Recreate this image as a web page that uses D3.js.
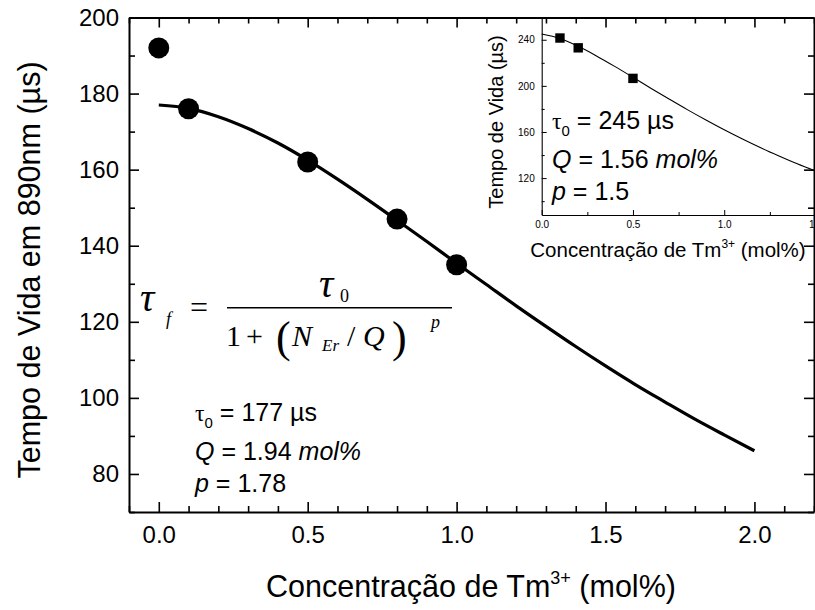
<!DOCTYPE html>
<html>
<head>
<meta charset="utf-8">
<script src="https://cdn.jsdelivr.net/npm/d3@7"></script>
<style>
body { margin: 0; background: #fff; }
svg text { fill: #000; }
</style>
</head>
<body>
<div id="chart"></div>
<script>
// main data (Tm3+ concentration vs lifetime at 890nm)
const conc = [0.0, 0.1, 0.5, 0.8, 1.0]
const lifetime = [192, 176, 162, 147, 135]
// fitted curve
const fitConc = [0.0, 0.1, 0.2, 0.3, 0.4, 0.5, 0.6, 0.7, 0.8, 0.9, 1.0, 1.1, 1.2, 1.3, 1.4, 1.5, 1.6, 1.7, 1.8, 1.9, 2.0]
const fitLifetime = [177, 176.1, 173.9, 170.8, 167.0, 162.5, 157.5, 152.2, 146.7, 141.1, 135.4, 129.8, 124.2, 118.8, 113.5, 108.4, 103.5, 98.9, 94.4, 90.2, 86.1]
const xTicks = [0.0, 0.5, 1.0, 1.5, 2.0]
const yTicks = [80, 100, 120, 140, 160, 180, 200]

// inset data
const insetConc = [0.1, 0.2, 0.5]
const insetLifetime = [241.5, 233, 206.5]
const insetFitConc = [0.0, 0.1, 0.2, 0.3, 0.4, 0.5, 0.6, 0.7, 0.8, 0.9, 1.0, 1.1, 1.2, 1.3, 1.4, 1.5]
const insetFitLifetime = [245, 241.1, 234.3, 226.0, 216.9, 207.4, 197.8, 188.4, 179.2, 170.4, 161.9, 153.9, 146.3, 139.2, 132.4, 126.1]
const insetXTicks = [0.0, 0.5, 1.0, 1.5]
const insetYTicks = [120, 160, 200, 240]

const W = 815, H = 610
const SANS = "'Liberation Sans', Arial, sans-serif"
const SERIF = "'Liberation Serif', 'Times New Roman', serif"

const svg = d3.select("#chart")
    .append("svg")
    .attr("width", W)
    .attr("height", H)
    .style("font-family", SANS)

// scales
const x = d3.scaleLinear().domain([-0.1, 2.2]).range([129, 814])
const y = d3.scaleLinear().domain([70, 200]).range([512, 17.5])

const ix = d3.scaleLinear().domain([0, 1.5]).range([541.7, 815.5])
const iy = d3.scaleLinear().domain([88, 260]).range([215, 16.7])

// ---------- inset ----------
const inset = svg.append("g")

inset.append("path")
    .datum(insetFitConc.map((c, i) => [c, insetFitLifetime[i]]))
    .attr("fill", "none")
    .attr("stroke", "#000")
    .attr("stroke-width", 1.1)
    .attr("d", d3.line().x(d => ix(d[0])).y(d => iy(d[1])).curve(d3.curveMonotoneX))

inset.selectAll("rect.pt")
    .data(insetConc)
    .enter().append("rect")
    .attr("class", "pt")
    .attr("x", d => ix(d) - 4.7)
    .attr("y", (d, i) => iy(insetLifetime[i]) - 4.7)
    .attr("width", 9.4)
    .attr("height", 9.4)
    .attr("fill", "#000")

// inset axes, ticks inside
inset.append("g")
    .attr("transform", `translate(0,${iy.range()[0]})`)
    .call(d3.axisBottom(ix).tickValues(insetXTicks).tickSizeInner(-5).tickSizeOuter(0).tickPadding(6).tickFormat(d3.format(".1f")))
    .call(g => g.select(".domain").attr("stroke-width", 1.1))
    .call(g => g.selectAll("text").attr("font-size", 10).attr("dy", "0.71em").style("font-family", SANS))
inset.append("g")
    .attr("transform", `translate(0,${iy.range()[0]})`)
    .call(d3.axisBottom(ix).tickValues([0.25, 0.75, 1.25]).tickSizeInner(-3).tickSizeOuter(0).tickFormat(""))
    .call(g => g.select(".domain").remove())

inset.append("g")
    .attr("transform", `translate(${ix.range()[0]},0)`)
    .call(d3.axisLeft(iy).tickValues(insetYTicks).tickSizeInner(-5).tickSizeOuter(0).tickPadding(7))
    .call(g => g.select(".domain").attr("stroke-width", 1.1))
    .call(g => g.selectAll("text").attr("font-size", 10).style("font-family", SANS))
inset.append("g")
    .attr("transform", `translate(${ix.range()[0]},0)`)
    .call(d3.axisLeft(iy).tickValues([100, 140, 180, 220]).tickSizeInner(-3).tickSizeOuter(0).tickFormat(""))
    .call(g => g.select(".domain").remove())

inset.append("text")
    .attr("transform", `translate(503,122) rotate(-90)`)
    .attr("text-anchor", "middle")
    .attr("font-size", 20)
    .text("Tempo de Vida (µs)")

const insetXLabel = inset.append("text")
    .attr("x", 668)
    .attr("y", 257)
    .attr("text-anchor", "middle")
    .attr("font-size", 20.5)
insetXLabel.append("tspan").text("Concentração de Tm")
insetXLabel.append("tspan").attr("font-size", 12).attr("dy", -9).text("3+")
insetXLabel.append("tspan").attr("dy", 9).text(" (mol%)")

// fit parameters block
function params(g, x0, y0, tau, q, p, size) {
    const t1 = g.append("text").attr("x", x0).attr("y", y0).attr("font-size", size)
    t1.append("tspan").style("font-family", SERIF).attr("font-size", size * 0.95).text("τ")
    t1.append("tspan").attr("font-size", size * 0.6).attr("dy", 7).text("0")
    t1.append("tspan").attr("dy", -7).text(" = " + tau + " µs")

    const t2 = g.append("text").attr("x", x0).attr("y", y0 + 39).attr("font-size", size)
    t2.append("tspan").attr("font-style", "italic").text("Q")
    t2.append("tspan").text(" = " + q + " ")
    t2.append("tspan").attr("font-style", "italic").text("mol%")

    const t3 = g.append("text").attr("x", x0).attr("y", y0 + 71).attr("font-size", size)
    t3.append("tspan").attr("font-style", "italic").text("p")
    t3.append("tspan").text(" = " + p)
}
params(inset, 552, 129, "245", "1.56", "1.5", 25)

// ---------- main plot ----------
const main = svg.append("g")

main.append("path")
    .datum(fitConc.map((c, i) => [c, fitLifetime[i]]))
    .attr("fill", "none")
    .attr("stroke", "#000")
    .attr("stroke-width", 3.2)
    .attr("d", d3.line().x(d => x(d[0])).y(d => y(d[1])).curve(d3.curveMonotoneX))

main.selectAll("circle.pt")
    .data(conc)
    .enter().append("circle")
    .attr("class", "pt")
    .attr("cx", d => x(d))
    .attr("cy", (d, i) => y(lifetime[i]))
    .attr("r", 10.5)
    .attr("fill", "#000")

// frame with inward ticks on all four sides
const minorX = d3.range(-1, 23).map(v => v / 10).filter(v => !xTicks.some(t => Math.abs(t - v) < 1e-6))
const minorY = d3.range(70, 201, 10).filter(v => !yTicks.includes(v))

function frameAxis(axis, scale, translate, major, minor, labels) {
    const g = main.append("g").attr("transform", translate)
    g.call(axis(scale).tickValues(major).tickSizeInner(-10).tickSizeOuter(0).tickPadding(10)
        .tickFormat(labels ? d3.format(labels) : ""))
    g.select(".domain").attr("stroke-width", 2)
    g.selectAll(".tick line").attr("stroke-width", 1.6)
    g.selectAll("text").attr("font-size", 24).style("font-family", SANS)
    const m = main.append("g").attr("transform", translate)
    m.call(axis(scale).tickValues(minor).tickSizeInner(-6).tickSizeOuter(0).tickFormat(""))
    m.select(".domain").remove()
    m.selectAll(".tick line").attr("stroke-width", 1.6)
    return g
}

const xb = frameAxis(d3.axisBottom, x, `translate(0,${y(70)})`, xTicks, minorX, ".1f")
xb.selectAll("text").attr("dy", "0.71em").attr("y", 14)
frameAxis(d3.axisTop, x, `translate(0,${y(200)})`, xTicks, minorX, null)
frameAxis(d3.axisLeft, y, `translate(${x(-0.1)},0)`, yTicks, minorY, "d")
frameAxis(d3.axisRight, y, `translate(${x(2.2)},0)`, yTicks, minorY, null)

// axis titles
main.append("text")
    .attr("transform", `translate(40,270) rotate(-90)`)
    .attr("text-anchor", "middle")
    .attr("font-size", 30.5)
    .text("Tempo de Vida em 890nm (µs)")

const xLabel = main.append("text")
    .attr("x", 471)
    .attr("y", 597)
    .attr("text-anchor", "middle")
    .attr("font-size", 30.5)
xLabel.append("tspan").text("Concentração de Tm")
xLabel.append("tspan").attr("font-size", 18).attr("dy", -13).text("3+")
xLabel.append("tspan").attr("dy", 13).text(" (mol%)")

params(main, 195, 421, "177", "1.94", "1.78", 25)

// fit equation
const eq = main.append("g")
function eqText(x0, y0, size, str, italic) {
    eq.append("text")
        .attr("x", x0).attr("y", y0)
        .attr("font-size", size)
        .style("font-family", SERIF)
        .style("font-style", italic ? "italic" : "normal")
        .text(str)
}
eqText(140, 311, 40, "τ", true)
eqText(166, 325, 18, "f", true)
eqText(190, 318, 32, "=", false)
eq.append("line")
    .attr("x1", 227).attr("x2", 452)
    .attr("y1", 307.7).attr("y2", 307.7)
    .attr("stroke", "#000").attr("stroke-width", 1.4)
eqText(319, 297, 40, "τ", true)
eqText(340, 302, 18, "0", false)
eqText(226, 346, 30, "1", false)
eqText(246, 346, 30, "+", false)
eqText(276, 352, 44, "(", false)
eqText(292, 346, 30, "N", true)
eqText(322, 351, 17, "Er", true)
eqText(347, 346, 30, "/", false)
eqText(363, 346, 30, "Q", true)
eqText(392, 352, 44, ")", false)
eqText(431, 328, 18, "p", true)
</script>
</body>
</html>
